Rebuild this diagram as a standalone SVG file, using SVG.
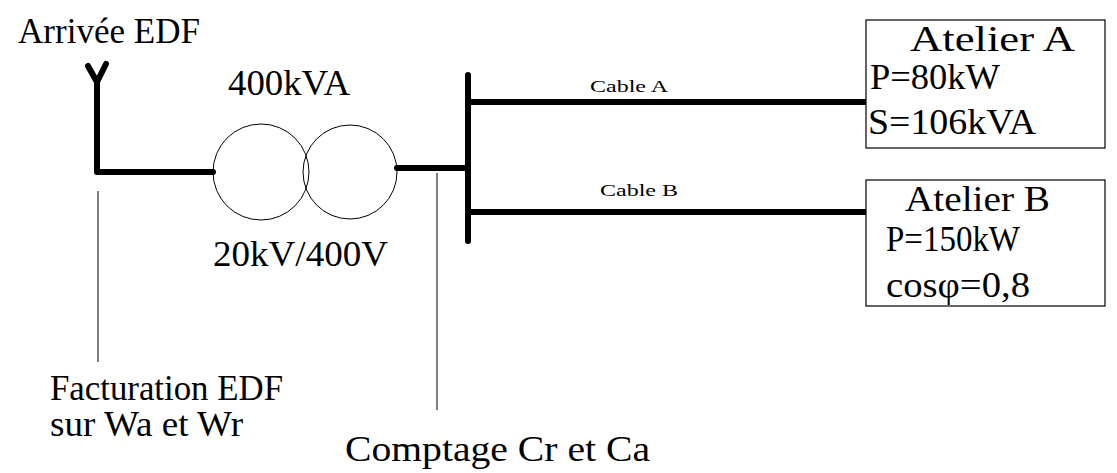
<svg xmlns="http://www.w3.org/2000/svg" width="1117" height="473" viewBox="0 0 1117 473">
<style>
text{font-family:"Liberation Serif",serif;fill:#000}
.t{font-size:35px}.s{font-size:16px}
.thick{stroke:#000;stroke-width:6;fill:none;stroke-linecap:round;stroke-linejoin:round}
.thin{stroke:#000;stroke-width:1;fill:none}
.box{fill:#fff;stroke:#000;stroke-width:1.2}
</style>
<rect width="1117" height="473" fill="#fff"/>
<g id="connectors">
<polyline class="thick" points="88,66 97,82 106,64"/>
<polyline class="thick" points="97,82 97,172 213,172"/>
<line class="thick" x1="397" y1="168" x2="466" y2="168"/>
<line class="thick" x1="468" y1="75" x2="468" y2="241"/>
<line class="thick" x1="468" y1="102" x2="866" y2="102"/>
<line class="thick" x1="468" y1="212" x2="866" y2="212"/>
<line class="thin" x1="98" y1="191" x2="98" y2="362"/>
<line class="thin" x1="437" y1="173" x2="437" y2="410"/>
<text class="s" x="590" y="92" textLength="78" lengthAdjust="spacingAndGlyphs">Cable A</text>
<text class="s" x="600" y="196" textLength="78" lengthAdjust="spacingAndGlyphs">Cable B</text>
</g>
<g id="transformer">
<circle class="thin" cx="261" cy="172" r="48"/>
<circle class="thin" cx="350" cy="172" r="47"/>
<text class="t" x="228" y="95" textLength="122" lengthAdjust="spacingAndGlyphs">400kVA</text>
<text class="t" x="213" y="266" textLength="175" lengthAdjust="spacingAndGlyphs">20kV/400V</text>
</g>
<g id="arrivee"><text class="t" x="18" y="43" textLength="182" lengthAdjust="spacingAndGlyphs">Arrivée EDF</text></g>
<g id="facturation"><text class="t" x="50" y="400" textLength="233" lengthAdjust="spacingAndGlyphs">Facturation EDF</text><text class="t" x="50" y="436" textLength="193" lengthAdjust="spacingAndGlyphs">sur Wa et Wr</text></g>
<g id="comptage"><text class="t" x="345" y="461" textLength="305" lengthAdjust="spacingAndGlyphs">Comptage Cr et Ca</text></g>
<g id="atelierA">
<rect class="box" x="866" y="20" width="239" height="128"/>
<text class="t" x="910" y="51" textLength="165" lengthAdjust="spacingAndGlyphs">Atelier A</text>
<text class="t" x="870" y="89" textLength="130" lengthAdjust="spacingAndGlyphs">P=80kW</text>
<text class="t" x="868" y="134" textLength="168" lengthAdjust="spacingAndGlyphs">S=106kVA</text>
</g>
<g id="atelierB">
<rect class="box" x="866" y="180" width="239" height="126"/>
<text class="t" x="905" y="211" textLength="145" lengthAdjust="spacingAndGlyphs">Atelier B</text>
<text class="t" x="886" y="251" textLength="134" lengthAdjust="spacingAndGlyphs">P=150kW</text>
<text class="t" x="886" y="297" textLength="144" lengthAdjust="spacingAndGlyphs">cosφ=0,8</text>
</g>
</svg>
